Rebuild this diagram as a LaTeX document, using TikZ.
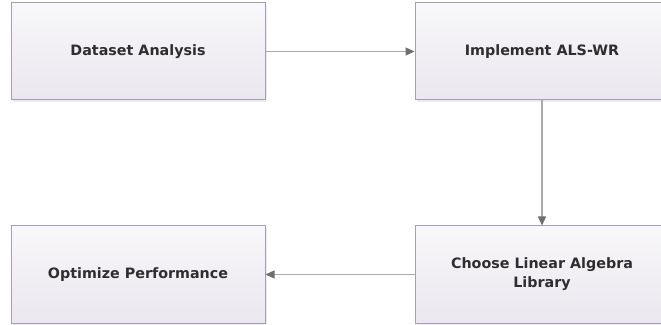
\documentclass[tikz,border=0pt]{standalone}
\usepackage{fontspec}
\setmainfont{DejaVu Sans}
\usetikzlibrary{arrows.meta,shadows}
\definecolor{boxborder}{HTML}{A99CB8}
\definecolor{boxtop}{HTML}{F8F7F9}
\definecolor{boxbot}{HTML}{EAE7EE}
\definecolor{linegray}{HTML}{ABABAB}
\definecolor{headgray}{HTML}{6E6E6E}
\definecolor{txt}{HTML}{2E2E2E}
\tikzset{
  box/.style={draw=boxborder, line width=1pt, top color=boxtop, bottom color=boxbot,
    minimum width=254pt, minimum height=97pt, align=center, inner sep=0pt,
    font=\fontsize{14.3pt}{19pt}\selectfont\bfseries, text=txt,
    drop shadow={shadow xshift=2pt, shadow yshift=-2pt, fill=black!12, opacity=0.6}},
  conn/.style={draw=linegray, line width=1.2pt, -{Triangle[length=9pt,width=8pt,color=headgray]}}
}
\begin{document}
\begin{tikzpicture}[x=1pt,y=1pt]
\useasboundingbox (0,0) rectangle (661,324);
\clip (0,0) rectangle (661,324);
\fill[white] (0,0) rectangle (661,324);
\node[box] (a) at (138,272.5) {Dataset Analysis};
\node[box] (b) at (542,272.5) {Implement ALS-WR};
\node[box] (c) at (542,49.5) {Choose Linear Algebra\\Library};
\node[box] (d) at (138,49.5) {Optimize Performance};
\draw[conn] (a) -- (b);
\draw[conn] (b) -- (c);
\draw[conn] (c) -- (d);
\end{tikzpicture}
\end{document}
